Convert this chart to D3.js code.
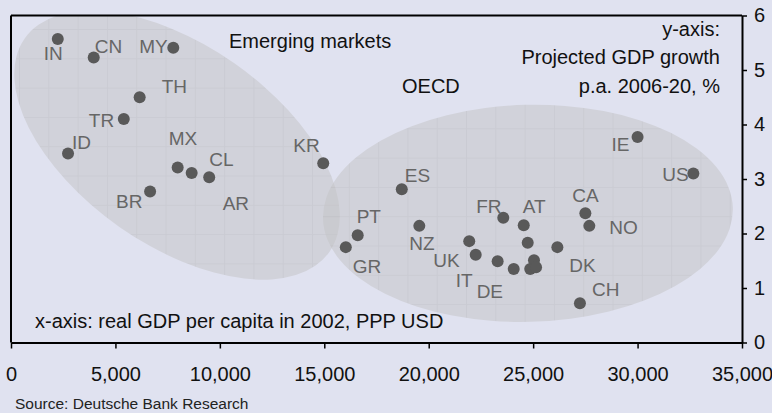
<!DOCTYPE html>
<html>
<head>
<meta charset="utf-8">
<script src="https://cdn.jsdelivr.net/npm/d3@7"></script>
<style>
  body { margin: 0; background: #e0e2f0; }
  svg { display: block; font-family: "Liberation Sans", Arial, sans-serif; }
</style>
</head>
<body>
<svg id="chart" width="772" height="413"></svg>
<script>
// data: real GDP per capita 2002 (PPP USD) vs projected growth 2006-20 (% p.a.)
var countries = ["IN","CN","MY","TH","TR","ID","MX","AR","CL","BR","KR",
                 "IE","US","ES","PT","GR","NZ","UK","IT","DE","FR","AT","CA","NO","DK","CH",
                 "","","","",""];
var gdpPerCapita = [2240,3960,7770,6160,5400,2730,7980,8650,9490,6660,14950,
                    30000,32670,18710,16600,16030,19550,21940,22250,23300,23570,24550,27500,27690,26160,27240,
                    24740,24070,25040,24860,25140];
var growth = [5.57,5.23,5.41,4.50,4.10,3.47,3.21,3.11,3.03,2.77,3.29,
              3.77,3.10,2.81,1.97,1.75,2.14,1.86,1.61,1.49,2.29,2.15,2.37,2.14,1.75,0.72,
              1.83,1.35,1.51,1.35,1.38];

var xTicks = [0,5000,10000,15000,20000,25000,30000,35000];
var yTicks = [0,1,2,3,4,5,6];

// group ellipses (centre in data units)
var groupNames = ["Emerging markets","OECD"];
var groupCentreX = [7950, 24750];
var groupCentreY = [3.62, 2.37];

// label placement relative to each point (px)
var labelDx = [-14,1,-34,22,-35,4,-9,31,0,-34,-30,
               -26,-31,3,-1,7,-10,-36,-20,-21,-27,-1,-13,20,12,12,
               0,0,0,0,0];
var labelDy = [21,-4,5,-4,8,-4,-23,37,-11,16,-11,
               14,7,-7,-12,26,24,26,32,37,-5,-12,-11,8,25,-7,
               0,0,0,0,0];

var svg = d3.select("#chart");
var plotLeft = 11, plotRight = 742, plotTop = 15.5, plotBottom = 342.5;

var xScale = d3.scaleLinear().domain([0, 35000]).range([plotLeft, plotRight]);
var yScale = d3.scaleLinear().domain([0, 6]).range([plotBottom, plotTop]);

svg.append("rect").attr("width",772).attr("height",413).style("fill","#e0e2f0");

// texture of the ellipses (square grid, not rotated)
var defs = svg.append("defs");
var patOrigin = [[48.3,58.3],[26.5,11.1]];
var ellipseRx = [186, 205];
var ellipseRy = [100, 108.5];
var ellipseRot = [35, -1.5];

patOrigin.forEach(function(o,i) {
    var p = defs.append("pattern")
        .attr("id","tex"+i)
        .attr("patternUnits","userSpaceOnUse")
        .attr("x",o[0]).attr("y",o[1])
        .attr("width",29.3).attr("height",29.3);
    p.append("rect").attr("width",29.3).attr("height",29.3).style("fill","#c4c4c6");
    p.append("line").attr("x1",0.5).attr("x2",0.5).attr("y1",0).attr("y2",29.3)
        .style("stroke","#b6b6b8").style("stroke-width",1);
    p.append("line").attr("x1",0).attr("x2",29.3).attr("y1",0.5).attr("y2",0.5)
        .style("stroke","#b6b6b8").style("stroke-width",1);

    defs.append("clipPath").attr("id","ell"+i)
        .append("ellipse")
        .attr("cx",0).attr("cy",0)
        .attr("rx",ellipseRx[i]).attr("ry",ellipseRy[i])
        .attr("transform","translate(" + xScale(groupCentreX[i]) + "," + yScale(groupCentreY[i]) + ") rotate(" + ellipseRot[i] + ")");
});

var ellG = svg.append("g");
groupNames.forEach(function(g,i) {
    ellG.append("rect")
        .attr("x",plotLeft).attr("y",plotTop)
        .attr("width",plotRight-plotLeft).attr("height",plotBottom-plotTop)
        .attr("clip-path","url(#ell" + i + ")")
        .style("fill","url(#tex" + i + ")")
        .style("opacity",0.52);
});

// frame top / left
svg.append("line").attr("x1",plotLeft).attr("x2",plotRight).attr("y1",plotTop).attr("y2",plotTop)
    .style("stroke","#000").style("stroke-width",2);
svg.append("line").attr("x1",plotLeft).attr("x2",plotLeft).attr("y1",plotTop).attr("y2",plotBottom)
    .style("stroke","#000").style("stroke-width",2);

var xAxis = d3.axisBottom(xScale).tickValues(xTicks).tickFormat(d3.format(",")).tickSize(6).tickSizeOuter(0);
var yAxis = d3.axisRight(yScale).tickValues(yTicks).tickFormat(d3.format("d")).tickSize(5).tickSizeOuter(0);

var gx = svg.append("g").attr("transform","translate(0," + plotBottom + ")").call(xAxis);
var gy = svg.append("g").attr("transform","translate(" + plotRight + ",0)").call(yAxis);

[gx, gy].forEach(function(g) {
    g.select(".domain").style("stroke","#000").style("stroke-width",2);
    g.selectAll(".tick line").style("stroke","#000").style("stroke-width",1.5);
    g.selectAll(".tick text").style("fill","#111").style("font-size","20px")
        .style("font-family","'Liberation Sans', Arial, sans-serif");
});
gx.selectAll(".tick text").attr("y",38.5).attr("dy",0);
gy.selectAll(".tick text").attr("x",12);

// points
svg.append("g").selectAll("circle").data(countries).enter()
    .append("circle")
    .attr("cx", function(d,i) { return xScale(gdpPerCapita[i]); })
    .attr("cy", function(d,i) { return yScale(growth[i]); })
    .attr("r", 6)
    .style("fill","#595959");

svg.append("g").selectAll("text").data(countries).enter()
    .append("text")
    .attr("x", function(d,i) { return xScale(gdpPerCapita[i]) + labelDx[i]; })
    .attr("y", function(d,i) { return yScale(growth[i]) + labelDy[i]; })
    .style("fill","#666").style("font-size","19px")
    .text(function(d) { return d; });

// annotations
var notes = [
    {t:"Emerging markets", x:229, y:48, a:"start"},
    {t:"OECD", x:402, y:93, a:"start"},
    {t:"y-axis:", x:720, y:36, a:"end"},
    {t:"Projected GDP growth", x:720, y:64, a:"end"},
    {t:"p.a. 2006-20, %", x:720, y:93, a:"end"},
    {t:"x-axis: real GDP per capita in 2002, PPP USD", x:35, y:328, a:"start"}
];
svg.append("g").selectAll("text").data(notes).enter()
    .append("text")
    .attr("x", function(d) { return d.x; })
    .attr("y", function(d) { return d.y; })
    .attr("text-anchor", function(d) { return d.a; })
    .style("fill","#111").style("font-size","20px")
    .text(function(d) { return d.t; });

svg.append("text").attr("x",15).attr("y",409)
    .style("fill","#222").style("font-size","15.5px")
    .text("Source: Deutsche Bank Research");
</script>
</body>
</html>
